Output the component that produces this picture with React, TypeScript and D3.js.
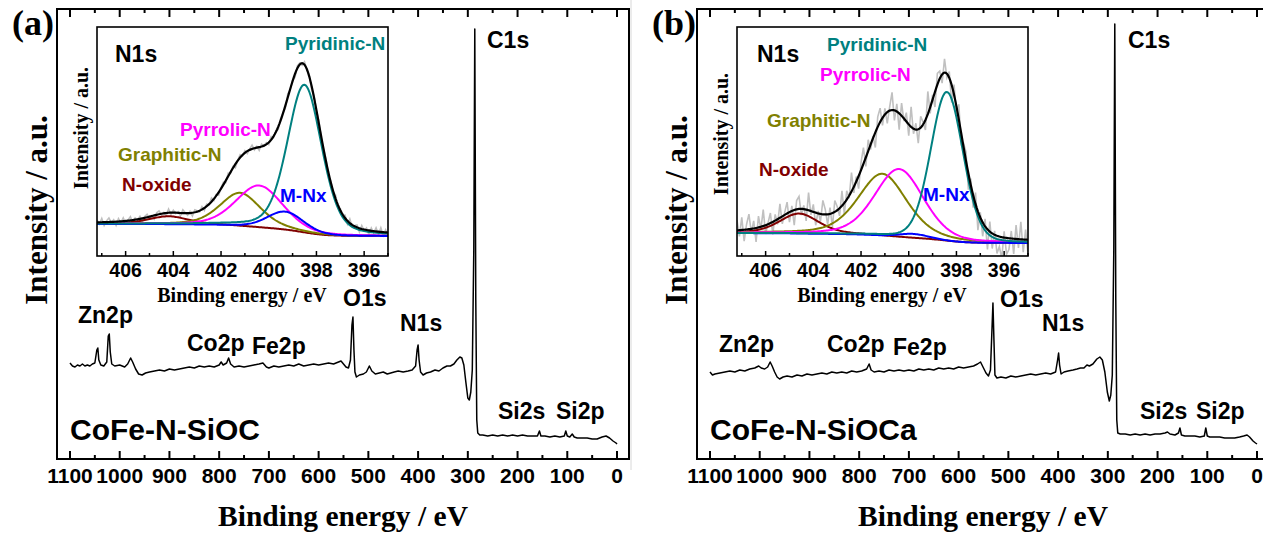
import React from "react";
import * as d3 from "d3";

// ---------- Survey spectra (binding energy eV, intensity a.u.) ----------
const surveyEnergyA = [1100,1095,1090,1085,1080,1075,1070,1065,1060,1055,1050,1046,1044,1042,1038,1032,1026,1023,1021,1019,1016,1010,1000,990,984,978,974,968,962,955,948,940,930,920,910,900,890,880,870,860,850,840,830,820,810,800,796,792,785,781,777,770,760,750,740,730,720,712,705,700,690,680,670,660,650,640,630,620,610,600,590,580,570,560,555,550,545,540,536,533,531,529,527,524,518,510,504,498,493,486,478,470,462,455,448,440,430,420,412,405,402,400,398,395,390,383,375,366,358,350,342,335,328,322,316,312,308,304,300,297,294,291,288,286,284,282,280,276,270,260,250,240,230,220,210,200,190,180,170,160,156,153,145,135,125,115,106,103,100,95,90,86,80,70,60,50,40,30,22,15,8,2,0];
const surveyIntensityA = [19.2,18.6,18.4,18.8,18.6,19.0,18.6,18.8,18.6,19.0,19.2,21.8,22.2,19.8,18.8,18.6,19.4,24.6,25.0,21.4,19.0,18.6,18.8,18.4,19.0,20.2,19.4,18.0,17.0,16.8,17.2,17.4,17.6,17.8,17.6,18.0,17.8,18.0,18.2,18.4,18.2,18.6,18.4,18.6,18.4,18.8,19.4,18.8,19.2,20.2,19.0,18.4,18.6,18.4,18.6,18.8,19.0,19.2,18.4,18.2,18.6,18.4,18.6,18.8,18.6,19.0,18.6,18.8,19.0,18.8,19.0,19.2,19.0,19.4,19.6,19.0,18.4,18.2,19.8,26.8,28.4,21.8,17.4,16.4,16.8,17.0,17.4,18.6,17.6,17.0,17.2,17.4,17.0,17.2,17.4,17.6,17.4,17.6,17.8,18.6,21.8,22.8,19.8,17.4,16.8,17.2,17.4,17.8,17.6,18.2,18.6,18.6,19.0,19.8,20.4,20.2,18.8,15.4,12.2,11.8,13.4,17.8,41.8,86.0,31.8,7.8,5.2,4.8,4.8,4.6,4.8,4.6,4.8,4.6,4.8,4.6,4.8,4.6,4.6,4.6,5.6,4.6,4.6,4.4,4.6,4.4,4.6,5.6,4.6,4.4,5.0,4.4,4.2,4.2,4.2,4.0,4.0,4.4,4.6,4.2,3.6,3.2,3.0];

const surveyEnergyB = [1100,1095,1090,1080,1070,1060,1050,1040,1030,1020,1010,1002,997,990,984,979,975,970,965,960,953,945,935,925,915,905,895,885,875,865,855,845,835,825,815,805,795,785,780,776,770,760,750,740,730,720,710,700,690,680,670,660,650,640,630,620,610,600,590,580,570,562,556,550,545,540,536,533,531,529,527,523,515,505,495,485,475,465,455,445,435,425,415,405,401,399,397,394,388,380,370,362,355,348,342,337,330,322,316,311,306,301,297,294,291,288,286,284,282,280,275,265,255,245,235,225,215,205,195,185,180,175,165,158,155,152,145,135,125,115,106,103,100,95,85,75,65,55,45,35,27,20,15,8,3,0];
const surveyIntensityB = [17.4,16.8,17.0,17.2,17.4,17.6,17.4,17.8,17.6,18.0,18.2,18.6,18.2,18.0,18.4,19.4,18.6,17.4,16.4,16.0,16.4,16.6,16.4,16.8,16.6,17.0,16.8,17.0,17.2,17.0,17.4,17.2,17.4,17.2,17.6,17.4,17.6,18.0,19.0,17.8,17.4,17.6,17.4,17.8,17.6,17.8,17.6,17.8,17.6,18.0,17.8,18.0,17.8,18.2,18.0,18.2,18.0,18.4,18.2,18.4,18.6,19.0,19.4,18.2,17.2,16.6,17.8,25.8,31.2,23.8,16.8,16.2,16.4,16.2,16.6,16.4,16.6,16.8,17.0,16.8,17.0,17.2,17.0,17.4,19.8,21.2,18.8,17.0,17.4,17.6,17.8,18.0,18.2,18.2,18.8,18.6,19.0,20.0,20.4,19.8,17.4,13.4,11.6,12.8,16.8,41.8,87.0,31.8,7.8,5.2,5.0,5.0,4.8,5.0,4.8,5.0,4.8,5.0,5.0,5.2,5.4,5.0,4.8,5.2,6.2,4.8,4.6,4.6,4.6,4.4,4.6,6.2,4.6,4.4,4.4,4.4,4.2,4.2,4.2,4.4,4.6,4.8,4.4,3.6,3.2,3.0];

const surveyTicks = [0,100,200,300,400,500,600,700,800,900,1000,1100];
const surveyMinorTicks = [50,150,250,350,450,550,650,750,850,950,1050];

// ---------- N1s high-resolution fits ----------
const componentNames = ["Pyridinic-N","M-Nx","Pyrrolic-N","Graphitic-N","N-oxide"];
const componentColors = ["#008080","#0000FF","#FF00FF","#808000","#800000"];

const centersA = [398.5, 399.3, 400.4, 401.2, 404.2];
const heightsA = [64.5, 7.9, 18.3, 14.5, 3.5];
const fwhmA = [1.7, 1.8, 2.3, 2.0, 2.0];
const mixA = [0.3, 0.2, 0.3, 0.4, 0.5];
const backgroundA = [14.0, 8.7];

const centersB = [398.4, 399.8, 400.4, 401.1, 404.6];
const heightsB = [65.0, 1.8, 29.7, 27.1, 8.7];
const fwhmB = [1.6, 1.5, 2.4, 2.4, 1.95];
const mixB = [0.15, 0.2, 0.3, 0.4, 0.4];
const backgroundB = [10.0, 5.7];

const noiseA = [0.6,-0.4,0.9,-0.8,0.3,1.0,-0.2,0.5,-0.9,0.7,-0.3,0.8,-0.6,0.2,0.9,-0.7,0.4,-0.1,0.6,-0.8,
 0.3,0.7,-0.5,0.1,-0.9,0.5,0.8,-0.3,0.2,-0.6,0.9,-0.4,0.6,-0.2,0.3,-0.7,0.8,0.1,-0.5,0.4,
 -0.8,0.6,0.2,-0.3,0.7,-0.6,0.5,-0.1,0.9,-0.4,0.3,-0.7,0.2,0.6,-0.5,0.8,-0.2,0.4,-0.9,0.1,
 0.7,-0.3,0.5,-0.6,0.2,0.9,-0.4,0.3,-0.8,0.6,-0.1,0.4,-0.5,0.8,-0.2,0.3,-0.7,0.5,0.1,-0.6,
 0.9,-0.3,0.2,-0.8,0.6,0.4,-0.5,0.7,-0.1,0.3,-0.9,0.5,-0.2,0.8,-0.4,0.1,0.6,-0.7,0.3,-0.3,
 0.9,-0.6,0.4,-0.2,0.7,-0.8,1.0,-0.5,0.2,0.6,-0.9,0.8,-0.3,0.5,-1.0,0.7,-0.4,0.9,-0.6,1.0,
 -0.8,0.6,-0.9];
const noiseB = [0.8,-0.5,1.0,-0.9,0.4,1.2,-0.3,0.6,-1.1,0.9,-0.2,1.3,-0.7,0.1,0.8,-1.0,0.5,-0.4,1.1,-0.6,
 0.2,0.9,-0.8,0.4,-1.2,0.7,1.0,-0.5,0.3,-0.9,1.4,-0.3,0.6,-1.0,0.2,-0.6,1.1,0.4,-0.8,0.5,
 -1.1,0.9,0.3,-0.6,1.2,-0.9,0.7,-0.2,1.5,-0.5,0.4,-1.0,0.6,1.3,-0.7,0.9,-0.4,0.2,-1.2,0.8,
 1.1,-0.6,0.5,-0.9,0.3,1.4,-0.8,0.6,-1.3,1.0,-0.2,0.7,-0.9,1.6,-0.4,0.5,-1.1,0.9,0.2,-0.8,
 1.8,-0.5,0.4,-1.2,0.9,0.6,-0.7,1.1,-0.3,0.5,-1.4,0.8,-0.6,1.2,-0.9,0.3,0.7,-1.3,0.5,-1.0,
 0.9,-1.5,0.4,-1.1,0.6,-1.6,0.8,-1.2,0.3,-1.4,-0.8,-1.7,0.5,-1.3,-0.9,0.6,-1.2,1.1,-0.7,1.4,
 -1.0,0.8,-1.1];
const noiseAmpA = 1.8;
const noiseAmpB = 5.5;
const insetTicks = [396, 398, 400, 402, 404, 406];
const insetMinorTicks = [395, 397, 399, 401, 403, 405, 407];

const SANS = "'Liberation Sans', Arial, Helvetica, sans-serif";
const SERIF = "'Liberation Serif', 'Times New Roman', Times, serif";

function buildInset(centers: number[], heights: number[], fwhm: number[], mix: number[], bg: number[], noise: number[], amp: number) {
  const step = 0.05;
  const grid = d3.range(245).map((i) => 395 + i * step);
  const pv = (E: number, k: number) => {
    const t = (E - centers[k]) / fwhm[k];
    const G = Math.exp(-4 * Math.LN2 * t * t);
    const L = 1 / (1 + 4 * t * t);
    return heights[k] * (mix[k] * L + (1 - mix[k]) * G);
  };
  const sums = grid.map((E) => d3.sum(centers, (_, k) => pv(E, k)));
  const cum: number[] = [0];
  for (let i = 1; i < grid.length; i++) cum.push(cum[i - 1] + ((sums[i] + sums[i - 1]) / 2) * step);
  const total = cum[cum.length - 1];
  const bgv = cum.map((c) => bg[1] + (bg[0] - bg[1]) * (c / total));
  const comps = centers.map((_, k) => grid.map((E, i) => [E, bgv[i] + pv(E, k)] as [number, number]));
  const fit = grid.map((E, i) => [E, bgv[i] + sums[i]] as [number, number]);
  const raw = noise.map((n, j) => {
    const idx = grid.length - 1 - 2 * j;
    return [grid[idx], fit[idx][1] + n * amp] as [number, number];
  });
  return { comps, fit, raw };
}

type PanelProps = {
  dx: number;
  letter: string;
  sample: string;
  energies: number[];
  intens: number[];
  inset: ReturnType<typeof buildInset>;
  labels: { t: string; x: number; y: number; c?: string; s?: number }[];
  insetLabels: { t: string; x: number; y: number; c: string; s: number }[];
  ytitleY: number;
  insetYtitleY: number;
};

function Panel(p: PanelProps) {
  const { dx } = p;
  const fx0 = 57 + dx, fx1 = 629 + dx, fy0 = 9, fy1 = 459;
  const x = d3.scaleLinear().domain([1126.1, -24.1]).range([fx0, fx1]);
  const y = d3.scaleLinear().domain([0, 90]).range([fy1, fy0]);
  const line = d3.line<number>().x((_, i) => x(p.energies[i])).y((d) => y(d));

  const ix0 = 97 + dx, ix1 = 388 + dx, iy0 = 27, iy1 = 256;
  const xi = d3.scaleLinear().domain([407.2, 395]).range([ix0, ix1]);
  const yi = d3.scaleLinear().domain([0, 100]).range([iy1, iy0]);
  const iline = d3.line<[number, number]>().x((d) => xi(d[0])).y((d) => yi(d[1]));
  const clipId = "clip" + p.letter.replace(/[()]/g, "");

  return (
    <g>
      <path d={line(p.intens) || ""} fill="none" stroke="#000" strokeWidth={1.5} strokeLinejoin="round" />
      <rect x={fx0} y={fy0} width={fx1 - fx0} height={fy1 - fy0} fill="none" stroke="#000" strokeWidth={2} />
      {surveyTicks.map((t) => (
        <g key={"M" + t}>
          <line x1={x(t)} x2={x(t)} y1={fy1} y2={fy1 - 8} stroke="#000" strokeWidth={2} />
          <line x1={x(t)} x2={x(t)} y1={fy0} y2={fy0 + 8} stroke="#000" strokeWidth={2} />
          <text x={x(t)} y={483} textAnchor="middle" fontFamily={SANS} fontWeight="bold" fontSize={21}>{t}</text>
        </g>
      ))}
      {surveyMinorTicks.map((t) => (
        <g key={"m" + t}>
          <line x1={x(t)} x2={x(t)} y1={fy1} y2={fy1 - 4} stroke="#000" strokeWidth={2} />
          <line x1={x(t)} x2={x(t)} y1={fy0} y2={fy0 + 4} stroke="#000" strokeWidth={2} />
        </g>
      ))}
      <text x={343 + dx} y={526} textAnchor="middle" fontFamily={SERIF} fontWeight="bold" fontSize={29.5}>Binding energy / eV</text>
      <text transform={`translate(${47 + dx},${p.ytitleY}) rotate(-90)`} textAnchor="middle" fontFamily={SERIF} fontWeight="bold" fontSize={31}>Intensity / a.u.</text>
      <text x={12 + dx} y={35} fontFamily={SERIF} fontWeight="bold" fontSize={36}>{p.letter}</text>
      {p.labels.map((l) => (
        <text key={l.t} x={l.x + dx} y={l.y} fontFamily={SANS} fontWeight="bold" fontSize={l.s || 23} fill="#000">{l.t}</text>
      ))}
      <text x={70 + dx} y={440} fontFamily={SANS} fontWeight="bold" fontSize={30}>{p.sample}</text>

      <rect x={ix0} y={iy0} width={ix1 - ix0} height={iy1 - iy0} fill="#fff" />
      <clipPath id={clipId}><rect x={ix0} y={iy0} width={ix1 - ix0} height={iy1 - iy0} /></clipPath>
      <g clipPath={`url(#${clipId})`}>
        <path d={iline(p.inset.raw) || ""} fill="none" stroke="#C0C0C0" strokeWidth={1.6} />
        {[4, 3, 2, 1, 0].map((k) => (
          <path key={k} d={iline(p.inset.comps[k]) || ""} fill="none" stroke={componentColors[k]} strokeWidth={2} />
        ))}
        <path d={iline(p.inset.fit) || ""} fill="none" stroke="#000" strokeWidth={2.2} />
      </g>
      <rect x={ix0} y={iy0} width={ix1 - ix0} height={iy1 - iy0} fill="none" stroke="#000" strokeWidth={1.6} />
      {insetTicks.map((t) => (
        <g key={"I" + t}>
          <line x1={xi(t)} x2={xi(t)} y1={iy1} y2={iy1 - 5} stroke="#000" strokeWidth={1.5} />
          <text x={xi(t)} y={277} textAnchor="middle" fontFamily={SANS} fontWeight="bold" fontSize={19.5}>{t}</text>
        </g>
      ))}
      {insetMinorTicks.map((t) => (
        <line key={"i" + t} x1={xi(t)} x2={xi(t)} y1={iy1} y2={iy1 - 3} stroke="#000" strokeWidth={1.5} />
      ))}
      <text x={242 + dx} y={302} textAnchor="middle" fontFamily={SERIF} fontWeight="bold" fontSize={20}>Binding energy / eV</text>
      <text transform={`translate(${88 + dx},${p.insetYtitleY}) rotate(-90)`} textAnchor="middle" fontFamily={SERIF} fontWeight="bold" fontSize={20}>Intensity / a.u.</text>
      {p.insetLabels.map((l) => (
        <text key={l.t} x={l.x + dx} y={l.y} fontFamily={SANS} fontWeight="bold" fontSize={l.s} fill={l.c}>{l.t}</text>
      ))}
    </g>
  );
}

export default function App() {
  const insetA = buildInset(centersA, heightsA, fwhmA, mixA, backgroundA, noiseA, noiseAmpA);
  const insetB = buildInset(centersB, heightsB, fwhmB, mixB, backgroundB, noiseB, noiseAmpB);
  const labelsA = [
    { t: "Zn2p", x: 78, y: 323 }, { t: "Co2p", x: 187, y: 351 }, { t: "Fe2p", x: 252, y: 354 },
    { t: "O1s", x: 343, y: 306 }, { t: "N1s", x: 400, y: 331 }, { t: "Si2s", x: 498, y: 419 },
    { t: "Si2p", x: 556, y: 419 }, { t: "C1s", x: 487, y: 48 },
  ];
  const labelsB = [
    { t: "Zn2p", x: 79, y: 352 }, { t: "Co2p", x: 187, y: 352 }, { t: "Fe2p", x: 253, y: 355 },
    { t: "O1s", x: 360, y: 307 }, { t: "N1s", x: 402, y: 331 }, { t: "Si2s", x: 500, y: 419 },
    { t: "Si2p", x: 556, y: 419 }, { t: "C1s", x: 488, y: 48 },
  ];
  const c = componentColors;
  const insetLabelsA = [
    { t: "N1s", x: 115, y: 62, c: "#000", s: 23 },
    { t: componentNames[0], x: 285, y: 50, c: c[0], s: 19 },
    { t: componentNames[2], x: 180, y: 136, c: c[2], s: 19 },
    { t: componentNames[3], x: 118, y: 161, c: c[3], s: 19 },
    { t: componentNames[4], x: 122, y: 191, c: c[4], s: 19 },
    { t: componentNames[1], x: 280, y: 202, c: c[1], s: 19 },
  ];
  const insetLabelsB = [
    { t: "N1s", x: 117, y: 62, c: "#000", s: 23 },
    { t: componentNames[0], x: 187, y: 51, c: c[0], s: 19 },
    { t: componentNames[2], x: 180, y: 81, c: c[2], s: 19 },
    { t: componentNames[3], x: 127, y: 127, c: c[3], s: 19 },
    { t: componentNames[4], x: 119, y: 176, c: c[4], s: 19 },
    { t: componentNames[1], x: 283, y: 201, c: c[1], s: 19 },
  ];
  return (
    <svg width={1263} height={535} style={{ position: "absolute", left: 0, top: 0, background: "#fff" }}>
      <rect x={0} y={0} width={1263} height={535} fill="#fff" />
      <line x1={631} x2={631} y1={0} y2={470} stroke="#d8d8d8" strokeWidth={1} />
      <Panel dx={0} letter="(a)" sample="CoFe-N-SiOC" energies={surveyEnergyA} intens={surveyIntensityA} inset={insetA}
        labels={labelsA} insetLabels={insetLabelsA} ytitleY={210} insetYtitleY={128} />
      <Panel dx={640} letter="(b)" sample="CoFe-N-SiOCa" energies={surveyEnergyB} intens={surveyIntensityB} inset={insetB}
        labels={labelsB} insetLabels={insetLabelsB} ytitleY={210} insetYtitleY={134} />
    </svg>
  );
}
